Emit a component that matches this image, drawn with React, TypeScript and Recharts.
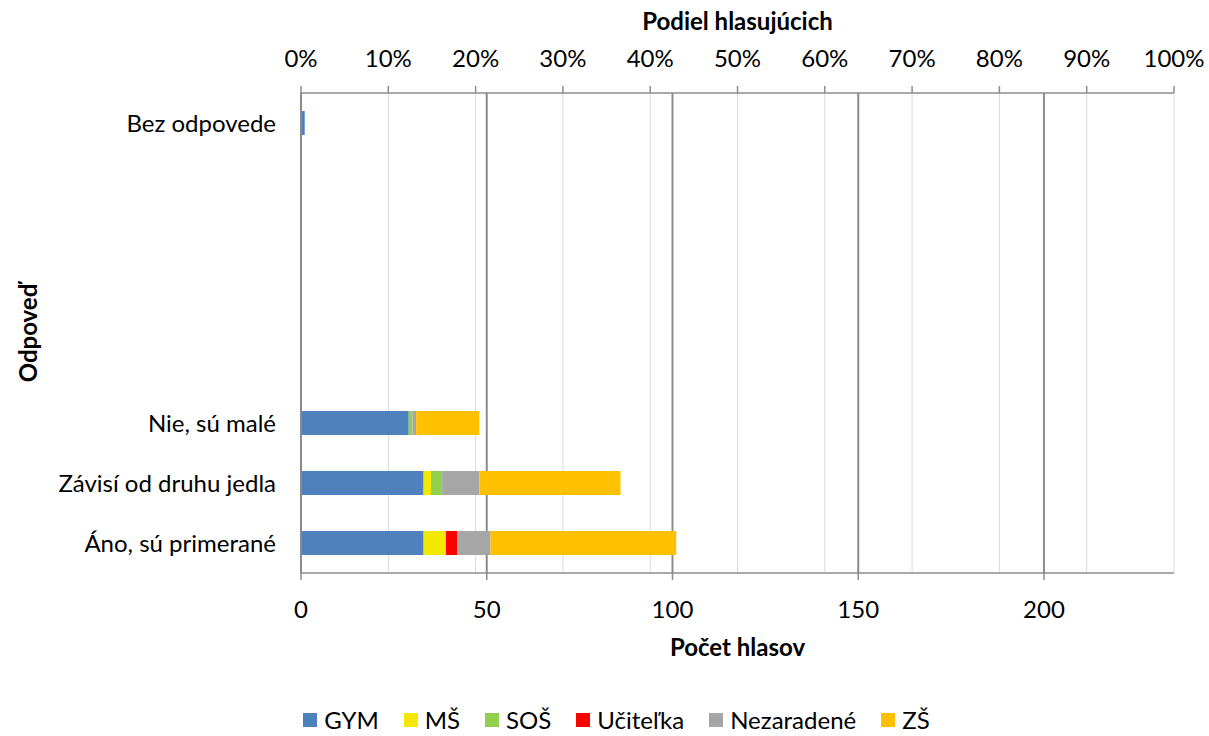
import React from "react";
import {
  BarChart,
  Bar,
  XAxis,
  YAxis,
  CartesianGrid,
  Legend,
  Label,
} from "recharts";

// answers, top to bottom (the empty ones are blank rows in the source sheet)
const categories = [
  "Bez odpovede",
  "",
  "",
  "",
  "",
  "Nie, sú malé",
  "Závisí od druhu jedla",
  "Áno, sú primerané",
];

const gym = [1, 0, 0, 0, 0, 29, 33, 33];
const ms = [0, 0, 0, 0, 0, 0, 2, 6];
const sos = [0, 0, 0, 0, 0, 1, 3, 0];
const ucitelka = [0, 0, 0, 0, 0, 0, 0, 3];
const nezaradene = [0, 0, 0, 0, 0, 1, 10, 9];
const zs = [0, 0, 0, 0, 0, 17, 38, 50];

const countTicks = [0, 50, 100, 150, 200];
const countMax = 235;
const pctTicks = [0, 0.1, 0.2, 0.3, 0.4, 0.5, 0.6, 0.7, 0.8, 0.9, 1];

const series = [
  { key: "GYM", values: gym, color: "#4F81BD" },
  { key: "MŠ", values: ms, color: "#F2E800" },
  { key: "SOŠ", values: sos, color: "#92D050" },
  { key: "Učiteľka", values: ucitelka, color: "#FF0000" },
  { key: "Nezaradené", values: nezaradene, color: "#A6A6A6" },
  { key: "ZŠ", values: zs, color: "#FFC000" },
];

const data = categories.map((name, i) => {
  const row: Record<string, string | number> = { name };
  series.forEach((s) => {
    row[s.key] = s.values[i];
  });
  return row;
});

const AXIS = "#8C8C8C";
const tickStyle = { fill: "#000", fontSize: 24 };
const titleStyle = { fill: "#000", fontSize: 24, fontWeight: 700 };

// keep the legend in series order (recharts sorts its payload by name)
const renderLegend = () => (
  <div
    style={{
      display: "flex",
      justifyContent: "center",
      gap: 25,
      fontSize: 24,
      color: "#000",
      paddingLeft: 24,
    }}
  >
    {series.map((s) => (
      <div key={s.key} style={{ display: "flex", alignItems: "center" }}>
        <span
          style={{
            width: 14,
            height: 14,
            background: s.color,
            marginRight: 7,
            display: "inline-block",
          }}
        />
        <span>{s.key}</span>
      </div>
    ))}
  </div>
);

export default function App() {
  return (
    <div
      style={{
        position: "absolute",
        left: 0,
        top: 0,
        width: 1209,
        height: 736,
        background: "#fff",
        fontFamily: "Lato, 'Noto Sans', sans-serif",
      }}
    >
      <BarChart
        width={1209}
        height={736}
        data={data}
        layout="vertical"
        margin={{ top: 0, right: 35, bottom: 73, left: 0 }}
      >
        {/* light lines follow the percentage axis, dark ones the vote counts */}
        <CartesianGrid
          xAxisId="pct"
          horizontal={false}
          stroke="#D9D9D9"
          strokeWidth={1}
          syncWithTicks
        />
        <CartesianGrid
          xAxisId="cnt"
          horizontal={false}
          stroke={AXIS}
          strokeWidth={2}
          syncWithTicks
        />
        <XAxis
          xAxisId="pct"
          orientation="top"
          type="number"
          domain={[0, 1]}
          allowDataOverflow
          ticks={pctTicks}
          tickFormatter={(v: number) => `${Math.round(v * 100)}%`}
          height={93}
          tick={tickStyle}
          tickSize={7}
          tickMargin={19}
          interval={0}
          axisLine={{ stroke: AXIS, strokeWidth: 1.5 }}
          tickLine={{ stroke: AXIS, strokeWidth: 1.5 }}
        >
          <Label
            value="Podiel hlasujúcich"
            position="insideTop"
            offset={13}
            style={titleStyle}
          />
        </XAxis>
        <XAxis
          xAxisId="cnt"
          type="number"
          domain={[0, countMax]}
          allowDataOverflow
          ticks={countTicks}
          height={90}
          tick={tickStyle}
          tickSize={7}
          tickMargin={21}
          interval={0}
          axisLine={{ stroke: AXIS, strokeWidth: 1.5 }}
          tickLine={{ stroke: AXIS, strokeWidth: 1.5 }}
        >
          <Label
            value="Počet hlasov"
            position="insideBottom"
            offset={7}
            style={titleStyle}
          />
        </XAxis>
        <YAxis
          type="category"
          dataKey="name"
          width={301}
          interval={0}
          tick={tickStyle}
          tickLine={false}
          tickSize={0}
          tickMargin={25}
          axisLine={{ stroke: AXIS, strokeWidth: 1.5 }}
        >
          <Label
            value="Odpoveď"
            angle={-90}
            position="insideLeft"
            offset={28}
            style={{ ...titleStyle, textAnchor: "middle" }}
          />
        </YAxis>
        {series.map((s) => (
          <Bar
            key={s.key}
            dataKey={s.key}
            name={s.key}
            stackId="a"
            xAxisId="cnt"
            fill={s.color}
            barSize={24}
            isAnimationActive={false}
          />
        ))}
        <Legend
          verticalAlign="middle"
          align="center"
          content={renderLegend}
          wrapperStyle={{ top: 705, left: 0, width: 1209 }}
        />
      </BarChart>
    </div>
  );
}
